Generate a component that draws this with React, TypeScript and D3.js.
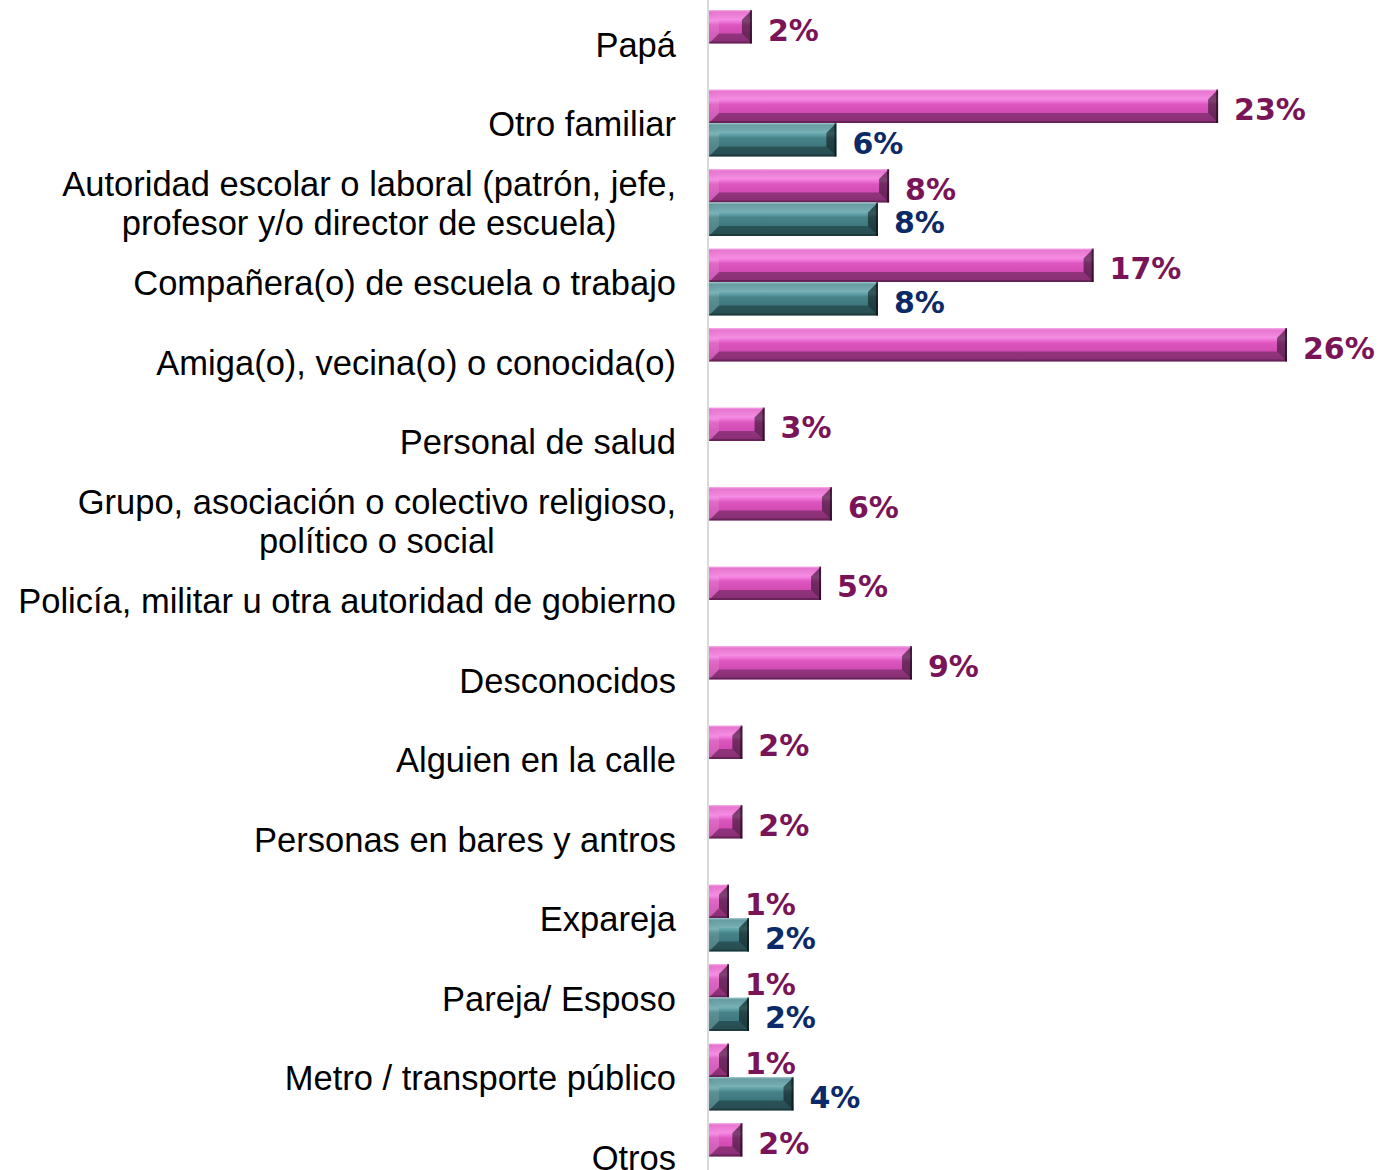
import React, { useEffect, useRef } from 'react';
import * as d3 from 'd3';

// categories (multi-line labels split on "|")
const categories = [
  'Papá',
  'Otro familiar',
  'Autoridad escolar o laboral (patrón, jefe,|profesor y/o director de escuela)',
  'Compañera(o) de escuela o trabajo',
  'Amiga(o), vecina(o) o conocida(o)',
  'Personal de salud',
  'Grupo, asociación o colectivo religioso,|político o social',
  'Policía, militar u otra autoridad de gobierno',
  'Desconocidos',
  'Alguien en la calle',
  'Personas en bares y antros',
  'Expareja',
  'Pareja/ Esposo',
  'Metro / transporte público',
  'Otros',
];

// percent values
const pinkValues = [1.93, 22.9, 8.1, 17.3, 26, 2.5, 5.53, 5.04, 9.13, 1.5, 1.5, 0.9, 0.9, 0.9, 1.5];
const tealValues = [0, 5.73, 7.6, 7.6, 0, 0, 0, 0, 0, 0, 0, 1.8, 1.8, 3.8, 0];

const series = [
  { key: 'pink', values: pinkValues, grad: 'gradPink', labelColor: '#7A1458' },
  { key: 'teal', values: tealValues, grad: 'gradTeal', labelColor: '#0D2A68' },
];

const App = () => {
  const svgRef = useRef<SVGSVGElement>(null);

  useEffect(() => {
    const width = 1380;
    const height = 1170;
    const svg = d3.select(svgRef.current);
    svg.selectAll('*').remove();
    svg.attr('width', width).attr('height', height);

    const step = 79.5;
    const y = d3
      .scaleBand<string>()
      .domain(categories)
      .range([3.75, 3.75 + step * categories.length]);
    const ySub = d3
      .scaleBand<string>()
      .domain(series.map((s) => s.key))
      .range([6.25, step - 6.25]);
    const x = d3.scaleLinear().domain([0, 26]).range([709, 1287]);

    // gradients for the bevelled bars
    const defs = svg.append('defs');
    const addGrad = (id: string, stops: [number, string][]) => {
      const g = defs
        .append('linearGradient')
        .attr('id', id)
        .attr('x1', 0)
        .attr('y1', 0)
        .attr('x2', 0)
        .attr('y2', 1);
      stops.forEach(([o, c]) => g.append('stop').attr('offset', o).attr('stop-color', c));
    };
    addGrad('gradPink', [
      [0, '#F6A6E4'],
      [0.06, '#E35EC8'],
      [0.22, '#EE72D6'],
      [0.32, '#F480E0'],
      [0.45, '#DD55BE'],
      [0.72, '#CF4AB2'],
      [1, '#C443A8'],
    ]);
    addGrad('gradTeal', [
      [0, '#9AC6CA'],
      [0.06, '#4E8C92'],
      [0.22, '#5A9BA1'],
      [0.32, '#68AAB0'],
      [0.45, '#468389'],
      [0.72, '#3D777D'],
      [1, '#376F75'],
    ]);

    // axis line
    svg
      .append('line')
      .attr('x1', 708)
      .attr('x2', 708)
      .attr('y1', 0)
      .attr('y2', height)
      .attr('stroke', '#D9D9D9')
      .attr('stroke-width', 2);

    // bars
    series.forEach((s) => {
      const bars = svg
        .append('g')
        .selectAll('g')
        .data(categories.map((c, i) => ({ c, v: s.values[i] })).filter((d) => d.v > 0))
        .join('g');

      bars.each(function (d) {
        const g = d3.select(this);
        const x0 = x(0);
        const x1 = x(d.v);
        const y0 = (y(d.c) as number) + (ySub(s.key) as number);
        const y1 = y0 + ySub.bandwidth();
        const b = Math.min(10, (x1 - x0) / 2, (y1 - y0) / 2);
        g.append('rect')
          .attr('x', x0)
          .attr('y', y0)
          .attr('width', x1 - x0)
          .attr('height', y1 - y0)
          .attr('fill', `url(#${s.grad})`);
        const poly = (pts: number[][], fill: string, op: number) =>
          g.append('polygon')
            .attr('points', pts.map((p) => p.join(',')).join(' '))
            .attr('fill', fill)
            .attr('fill-opacity', op);
        // top
        poly([[x0, y0], [x1, y0], [x1 - b, y0 + b], [x0 + b, y0 + b]], '#ffffff', 0.15);
        // bottom
        poly([[x0, y1], [x1, y1], [x1 - b, y1 - b], [x0 + b, y1 - b]], '#000000', 0.3);
        // left
        poly([[x0, y0], [x0 + b, y0 + b], [x0 + b, y1 - b], [x0, y1]], '#ffffff', 0.12);
        // right
        poly([[x1, y0], [x1 - b, y0 + b], [x1 - b, y1 - b], [x1, y1]], '#000000', 0.48);
        g.append('line')
          .attr('x1', x1 - 1)
          .attr('x2', x1 - 1)
          .attr('y1', y0)
          .attr('y2', y1)
          .attr('stroke', '#000000')
          .attr('stroke-opacity', 0.5)
          .attr('stroke-width', 2);
        g.append('line')
          .attr('x1', x0)
          .attr('x2', x1)
          .attr('y1', y1 - 1)
          .attr('y2', y1 - 1)
          .attr('stroke', '#000000')
          .attr('stroke-opacity', 0.25)
          .attr('stroke-width', 2);

        // value label
        g.append('text')
          .attr('x', x1 + 16)
          .attr('y', (y0 + y1) / 2)
          .attr('dy', '0.46em')
          .attr('font-family', '"DejaVu Sans", sans-serif')
          .attr('font-weight', 'bold')
          .attr('font-size', 30)
          .attr('fill', s.labelColor)
          .text(`${Math.round(d.v)}%`);
      });
    });

    // category labels
    const labelRight = 676;
    const lineH = 39.5;
    categories.forEach((c) => {
      const lines = c.split('|');
      const cy = (y(c) as number) + step / 2;
      const t = svg
        .append('text')
        .attr('font-family', '"Liberation Sans", Arial, sans-serif')
        .attr('font-size', 34.5)
        .attr('fill', '#000000')
        .attr('text-anchor', lines.length > 1 ? 'middle' : 'end');
      lines.forEach((ln, i) => {
        t.append('tspan')
          .attr('x', labelRight)
          .attr('y', cy + (i - (lines.length - 1) / 2) * lineH)
          .attr('dy', '0.38em')
          .text(ln);
      });
      if (lines.length > 1) {
        let maxW = 0;
        t.selectAll<SVGTSpanElement, unknown>('tspan').each(function () {
          maxW = Math.max(maxW, this.getComputedTextLength());
        });
        t.selectAll('tspan').attr('x', labelRight - maxW / 2);
      }
    });
  }, []);

  return (
    <div>
      <svg ref={svgRef} style={{ position: 'absolute', left: 0, top: 0, display: 'block' }}></svg>
    </div>
  );
};

export default App;
